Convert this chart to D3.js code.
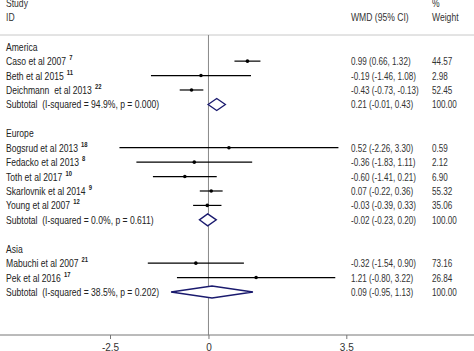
<!DOCTYPE html>
<html lang="en">
<head>
<meta charset="UTF-8"/>
<title>Forest plot WMD</title>
<script src="https://d3js.org/d3.v7.min.js"></script>
<style>
	body { margin: 0; background: #fff; }
	svg { display: block; font-family: "Liberation Sans", Arial, sans-serif; }
	text { white-space: pre; }
</style>
</head>
<body>
<script>

var w = 474;
var h = 351;

// groups and studies
var groups = ["America", "Europe", "Asia"];
var studies = ["Caso et al 2007", "Beth et al 2015", "Deichmann  et al 2013",
	"Bogsrud et al 2013", "Fedacko et al 2013", "Toth et al 2017", "Skarlovnik et al 2014", "Young et al 2007",
	"Mabuchi et al 2007", "Pek et al 2016"];
var refs = ["7", "11", "22", "18", "8", "10", "9", "12", "21", "17"];
var studyGroup = [0, 0, 0, 1, 1, 1, 1, 1, 2, 2];
var wmd = [0.99, -0.19, -0.43, 0.52, -0.36, -0.60, 0.07, -0.03, -0.32, 1.21];
var lower = [0.66, -1.46, -0.73, -2.26, -1.83, -1.41, -0.22, -0.39, -1.54, -0.80];
var upper = [1.32, 1.08, -0.13, 3.30, 1.11, 0.21, 0.36, 0.33, 0.90, 3.22];
var weight = [44.57, 2.98, 52.45, 0.59, 2.12, 6.90, 55.32, 35.06, 73.16, 26.84];

// subtotals
var subLabel = ["Subtotal  (I-squared = 94.9%, p = 0.000)",
	"Subtotal  (I-squared = 0.0%, p = 0.611)",
	"Subtotal  (I-squared = 38.5%, p = 0.202)"];
var subWmd = [0.21, -0.02, 0.09];
var subLower = [-0.01, -0.23, -0.95];
var subUpper = [0.43, 0.20, 1.13];

var tickValues = [-2.5, 0, 3.5];

// build row list
var rows = [];
groups.forEach(function(g, gi) {
	rows.push({type: "group", label: g});
	studies.forEach(function(s, i) {
		if (studyGroup[i] === gi) {
			rows.push({type: "study", label: s, ref: refs[i], est: wmd[i], lo: lower[i], hi: upper[i], wt: weight[i]});
		}
	});
	rows.push({type: "sub", label: subLabel[gi], est: subWmd[gi], lo: subLower[gi], hi: subUpper[gi], wt: 100});
	if (gi < groups.length - 1) rows.push({type: "blank"});
});
rows.forEach(function(r, i) { r.idx = i; });

var xScale = d3.scaleLinear().domain([-2.5, 3.5]).range([110, 346.3]);
var yScale = d3.scaleLinear().domain([0, rows.length - 1]).range([46.7, 292]);

var f2 = d3.format(".2f");
var fnum = function(v) { return f2(v).replace("\u2212", "-"); };

// narrow text like the original
var sxLab = 0.78;
var sxNum = 0.74;

var svg = d3.select("body").append("svg")
	.attr("width", w)
	.attr("height", h);

var axisY = 335;
var topY = 35;

// header line
svg.append("line")
	.attr("x1", 0).attr("x2", w)
	.attr("y1", topY).attr("y2", topY)
	.attr("stroke", "#c8c8c8").attr("stroke-width", 1);

// zero line
svg.append("line")
	.attr("x1", xScale(0)).attr("x2", xScale(0))
	.attr("y1", topY).attr("y2", axisY)
	.attr("stroke", "#888").attr("stroke-width", 1);

// headers
var hdr = [
	{t: "Study", x: 6, y: 7},
	{t: "ID", x: 6, y: 21},
	{t: "WMD (95% CI)", x: 351, y: 21},
	{t: "%", x: 432, y: 7},
	{t: "Weight", x: 432, y: 21}
];
svg.selectAll("text.hdr")
	.data(hdr)
	.enter()
	.append("text")
	.attr("class", "hdr")
	.attr("transform", function(d) { return "translate(" + d.x + "," + d.y + ") scale(" + sxLab + ",1)"; })
	.attr("font-size", 11)
	.attr("fill", "#333")
	.text(function(d) { return d.t; });

// labels
var lab = svg.selectAll("text.lab")
	.data(rows.filter(function(r) { return r.type !== "blank"; }))
	.enter()
	.append("text")
	.attr("class", "lab")
	.attr("transform", function(d) { return "translate(6," + (yScale(d.idx) + 4) + ") scale(" + sxLab + ",1)"; })
	.attr("font-size", 11)
	.attr("fill", "#222");
lab.append("tspan").text(function(d) { return d.label; });
lab.filter(function(d) { return d.type === "study"; })
	.append("tspan")
	.attr("dx", 4)
	.attr("dy", -5)
	.attr("font-size", 7.5)
	.attr("font-weight", "bold")
	.text(function(d) { return d.ref; });

// CI columns
var vals = rows.filter(function(r) { return r.type === "study" || r.type === "sub"; });
svg.selectAll("text.ci")
	.data(vals)
	.enter()
	.append("text")
	.attr("class", "ci")
	.attr("transform", function(d) { return "translate(351," + (yScale(d.idx) + 4) + ") scale(" + sxNum + ",1)"; })
	.attr("font-size", 11)
	.attr("fill", "#333")
	.text(function(d) { return fnum(d.est) + " (" + fnum(d.lo) + ", " + fnum(d.hi) + ")"; });

svg.selectAll("text.wt")
	.data(vals)
	.enter()
	.append("text")
	.attr("class", "wt")
	.attr("transform", function(d) { return "translate(432," + (yScale(d.idx) + 4) + ") scale(" + sxNum + ",1)"; })
	.attr("font-size", 11)
	.attr("fill", "#333")
	.text(function(d) { return f2(d.wt); });

// study CIs
var st = rows.filter(function(r) { return r.type === "study"; });
svg.selectAll("line.ci")
	.data(st)
	.enter()
	.append("line")
	.attr("class", "ci")
	.attr("x1", function(d) { return xScale(d.lo); })
	.attr("x2", function(d) { return xScale(d.hi); })
	.attr("y1", function(d) { return yScale(d.idx); })
	.attr("y2", function(d) { return yScale(d.idx); })
	.attr("stroke", "#000").attr("stroke-width", 1.2);

svg.selectAll("circle.pt")
	.data(st)
	.enter()
	.append("circle")
	.attr("class", "pt")
	.attr("cx", function(d) { return xScale(d.est); })
	.attr("cy", function(d) { return yScale(d.idx); })
	.attr("r", 1.8)
	.attr("fill", "#000");

// subtotal diamonds
svg.selectAll("path.dia")
	.data(rows.filter(function(r) { return r.type === "sub"; }))
	.enter()
	.append("path")
	.attr("class", "dia")
	.attr("d", function(d) {
		var y = yScale(d.idx);
		return "M" + xScale(d.lo) + "," + y +
			"L" + xScale(d.est) + "," + (y - 6) +
			"L" + xScale(d.hi) + "," + y +
			"L" + xScale(d.est) + "," + (y + 6) + "Z";
	})
	.attr("fill", "#fff")
	.attr("stroke", "#1a1a6e")
	.attr("stroke-width", 1.3);

// x axis
svg.append("line")
	.attr("x1", 0).attr("x2", w)
	.attr("y1", axisY).attr("y2", axisY)
	.attr("stroke", "#777");

var xAxis = d3.axisBottom(xScale)
	.tickValues(tickValues)
	.tickSize(4)
	.tickFormat(function(d) { return String(d).replace("\u2212", "-"); });

var gx = svg.append("g")
	.attr("transform", "translate(0," + axisY + ")")
	.call(xAxis);
gx.select(".domain").remove();
gx.selectAll(".tick line").attr("stroke", "#777");
gx.selectAll(".tick text")
	.attr("font-family", "Liberation Sans, Arial, sans-serif")
	.attr("font-size", 10)
	.attr("fill", "#333")
	.attr("dy", "0.9em");

</script>
</body>
</html>
